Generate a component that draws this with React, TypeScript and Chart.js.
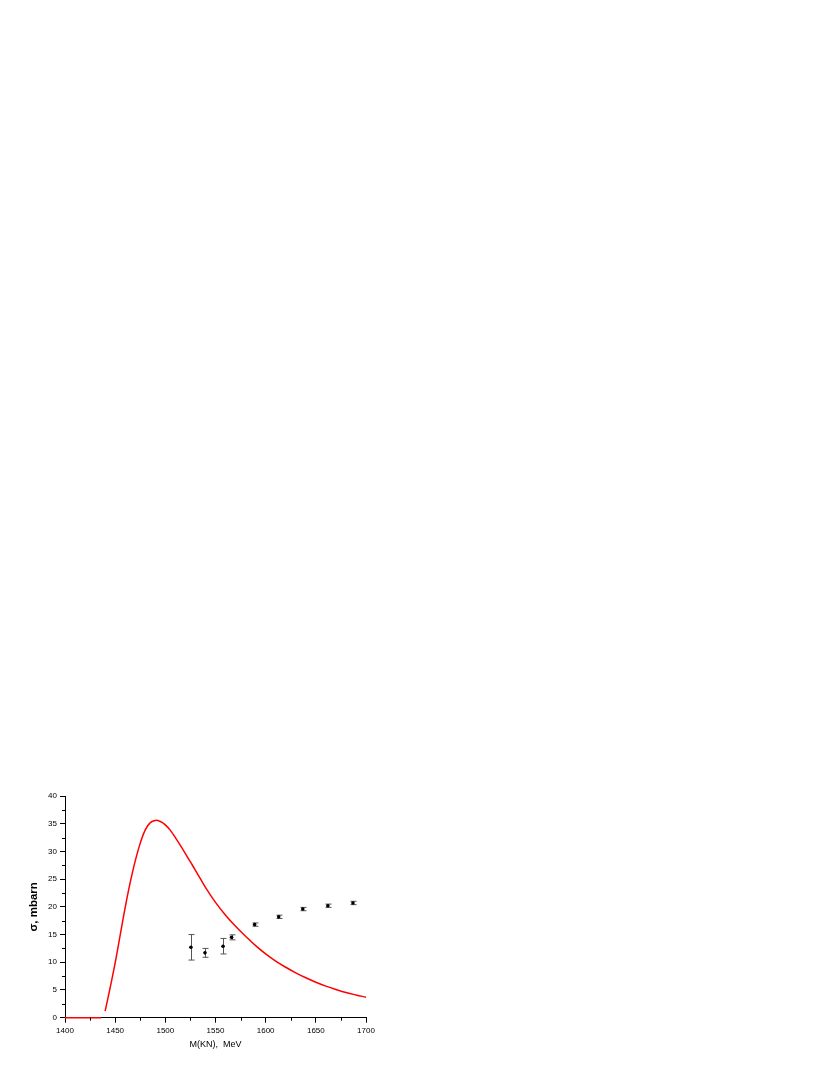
import React, { useEffect, useRef } from "react";
import { Chart, registerables } from "chart.js";

Chart.register(...registerables);

// Model curve (red line), MeV vs mbarn
const curveX = [1440, 1445, 1450, 1455, 1460, 1465, 1470, 1475, 1480, 1485, 1490, 1495, 1500, 1505, 1510, 1515, 1520, 1525, 1530, 1540, 1550, 1560, 1570, 1580, 1590, 1600, 1610, 1620, 1630, 1640, 1650, 1660, 1670, 1680, 1690, 1700];
const curveY = [1.2, 5.4, 9.9, 14.9, 19.9, 24.4, 28.3, 31.5, 33.9, 35.2, 35.6, 35.4, 34.8, 33.8, 32.5, 31.1, 29.6, 28.1, 26.6, 23.5, 20.8, 18.5, 16.5, 14.7, 13.0, 11.5, 10.2, 9.1, 8.1, 7.2, 6.4, 5.7, 5.1, 4.55, 4.1, 3.7];

// Flat segment of the curve along zero
const flatX = [1400, 1436];
const flatY = [0, 0];

// Experimental points
const dataX = [1525.5, 1539.5, 1557.5, 1566, 1589, 1613, 1637, 1662, 1687];
const dataY = [12.7, 11.7, 12.9, 14.5, 16.8, 18.2, 19.6, 20.2, 20.7];
const dataErr = [2.3, 0.8, 1.4, 0.45, 0.3, 0.3, 0.3, 0.3, 0.3];

// Axis ticks
const xMin = 1400;
const xMax = 1700;
const xStep = 50;
const yMin = 0;
const yMax = 40;
const yStep = 5;
const xMinorTicks = [1425, 1475, 1525, 1575, 1625, 1675];
const yMinorTicks = [2.5, 7.5, 12.5, 17.5, 22.5, 27.5, 32.5, 37.5];

const xTitle = "M(KN),  MeV";
const yTitle = "σ, mbarn";

const errorBarPlugin = {
  id: "errorBars",
  beforeDatasetsDraw(chart: any) {
    const ctx = chart.ctx;
    const xs = chart.scales.x;
    const ys = chart.scales.y;
    ctx.save();
    ctx.strokeStyle = "#555";
    ctx.lineWidth = 1;
    for (let i = 0; i < dataX.length; i++) {
      const px = Math.round(xs.getPixelForValue(dataX[i])) + 0.5;
      const pTop = ys.getPixelForValue(dataY[i] + dataErr[i]);
      const pBot = ys.getPixelForValue(dataY[i] - dataErr[i]);
      ctx.beginPath();
      ctx.moveTo(px, pTop);
      ctx.lineTo(px, pBot);
      ctx.moveTo(px - 3, pTop);
      ctx.lineTo(px + 3, pTop);
      ctx.moveTo(px - 3, pBot);
      ctx.lineTo(px + 3, pBot);
      ctx.stroke();
    }
    ctx.restore();
  },
};

const minorTickPlugin = {
  id: "minorTicks",
  afterDraw(chart: any) {
    const ctx = chart.ctx;
    const xs = chart.scales.x;
    const ys = chart.scales.y;
    const area = chart.chartArea;
    ctx.save();
    ctx.strokeStyle = "#000";
    ctx.lineWidth = 1;
    ctx.beginPath();
    for (const v of xMinorTicks) {
      const px = Math.round(xs.getPixelForValue(v)) + 0.5;
      ctx.moveTo(px, area.bottom);
      ctx.lineTo(px, area.bottom + 3);
    }
    for (const v of yMinorTicks) {
      const py = Math.round(ys.getPixelForValue(v)) + 0.5;
      ctx.moveTo(area.left, py);
      ctx.lineTo(area.left - 3, py);
    }
    ctx.stroke();
    ctx.restore();
  },
};

export default function App() {
  const canvasRef = useRef<HTMLCanvasElement | null>(null);

  useEffect(() => {
    if (!canvasRef.current) return;
    const chart = new Chart(canvasRef.current, {
      type: "scatter",
      data: {
        datasets: [
          {
            label: "model",
            data: curveX.map((x, i) => ({ x, y: curveY[i] })),
            showLine: true,
            borderColor: "#ff0000",
            borderWidth: 1.5,
            pointRadius: 0,
            tension: 0.4,
            fill: false,
          } as any,
          {
            label: "model-zero",
            data: flatX.map((x, i) => ({ x, y: flatY[i] })),
            showLine: true,
            borderColor: "#ff0000",
            borderWidth: 1.5,
            pointRadius: 0,
            fill: false,
            clip: 4,
          } as any,
          {
            label: "data",
            data: dataX.map((x, i) => ({ x, y: dataY[i] })),
            showLine: false,
            backgroundColor: "#000",
            borderColor: "#000",
            pointRadius: 1.8,
            borderWidth: 0,
          },
        ],
      },
      options: {
        animation: false,
        responsive: false,
        events: [],
        layout: {
          padding: { left: 0, right: 464, top: 796, bottom: 17.3 },
        },
        plugins: {
          legend: { display: false },
          tooltip: { enabled: false },
        },
        scales: {
          x: {
            type: "linear",
            min: xMin,
            max: xMax,
            afterFit: (scale: any) => {
              scale.height = 40;
            },
            ticks: {
              stepSize: xStep,
              color: "#000",
              padding: 3,
              maxRotation: 0,
              callback: (v: any) => String(v),
              font: { family: "'Liberation Sans', Arial, sans-serif", size: 8 },
            },
            grid: {
              display: true,
              drawOnChartArea: false,
              drawTicks: true,
              tickLength: 5,
              tickColor: "#000",
            },
            border: { display: true, color: "#000", width: 1 },
            title: {
              display: true,
              text: xTitle,
              color: "#000",
              padding: { top: 0, bottom: 7.8 },
              font: { family: "'Liberation Sans', Arial, sans-serif", size: 9 },
            },
          },
          y: {
            type: "linear",
            min: yMin,
            max: yMax,
            afterFit: (scale: any) => {
              scale.width = 65;
            },
            ticks: {
              stepSize: yStep,
              color: "#000",
              padding: 3,
              callback: (v: any) => String(v),
              font: { family: "'Liberation Sans', Arial, sans-serif", size: 8 },
            },
            grid: {
              display: true,
              drawOnChartArea: false,
              drawTicks: true,
              tickLength: 5,
              tickColor: "#000",
            },
            border: { display: true, color: "#000", width: 1 },
            title: {
              display: true,
              text: yTitle,
              color: "#000",
              padding: { top: 26.5, bottom: 0 },
              font: { family: "'Liberation Sans', Arial, sans-serif", size: 11.5, weight: "bold" },
            },
          },
        },
      },
      plugins: [errorBarPlugin, minorTickPlugin],
    });
    return () => chart.destroy();
  }, []);

  return (
    <div style={{ position: "absolute", left: 0, top: 0, width: 830, height: 1075, background: "#fff" }}>
      <canvas ref={canvasRef} width={830} height={1075} style={{ display: "block" }} />
    </div>
  );
}
